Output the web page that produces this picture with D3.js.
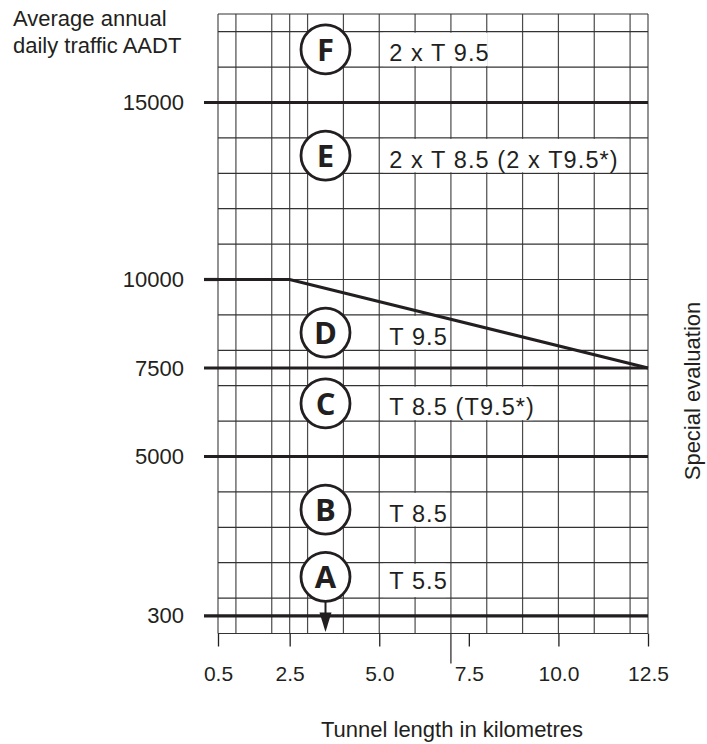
<!DOCTYPE html>
<html>
<head>
<meta charset="utf-8">
<script src="https://cdn.jsdelivr.net/npm/d3@7"></script>
<style>
  body { margin: 0; background: #fff; }
  text { font-family: 'Liberation Sans', Arial, sans-serif; fill: #231f20; }
</style>
</head>
<body>
<div id="chart"></div>
<script>
// tunnel length (km) where the vertical grid lines sit
var kmGrid = [0.5, 1, 2, 2.5, 3, 4, 5, 6, 7, 8, 9, 10, 11, 12, 12.5];
var kmTicks = [0.5, 2.5, 5.0, 7.5, 10.0, 12.5];
// chart rows (one row = one grid square), horizontal grid lines
var rowGrid = [0, 1, 2, 3, 4, 5, 6, 7, 8, 9, 10, 11, 12, 13, 14, 15, 16, 17, 17.5];
// AADT thresholds and the row they sit on
var aadtLabels = ['300', '5000', '7500', '10000', '15000'];
var aadtRows = [0.5, 5, 7.5, 10, 15];
var straightLimits = [0.5, 5, 7.5, 15];
// 10000 limit falling to 7500 at 12.5 km  [km, row]
var slopedLimit = [[0.5, 10], [2.5, 10], [12.5, 7.5]];
// tunnel classes
var classes = ['A', 'B', 'C', 'D', 'E', 'F'];
var classRows = [1.6, 3.5, 6.5, 8.5, 13.5, 16.5];
var profiles = ['T 5.5', 'T 8.5', 'T 8.5 (T9.5*)', 'T 9.5', '2 x T 8.5 (2 x T9.5*)', '2 x T 9.5'];
var classKm = 3.5;

var w = 707;
var h = 744;
var ink = '#231f20';

var svg = d3.select('#chart').append('svg')
    .attr('width', w)
    .attr('height', h);

var x = d3.scaleLinear().domain([0.5, 12.5]).range([218, 648]);
var y = d3.scaleLinear().domain([0, 17.5]).range([633.5, 14]);

// grid
var grid = svg.append('g');
grid.selectAll('.v').data(kmGrid).enter().append('line')
    .attr('class', 'v')
    .attr('x1', function(d){ return x(d); })
    .attr('x2', function(d){ return x(d); })
    .attr('y1', y(17.5))
    .attr('y2', y(0))
    .attr('stroke', '#4a4a4a')
    .attr('stroke-width', 1.2);
grid.selectAll('.h').data(rowGrid).enter().append('line')
    .attr('class', 'h')
    .attr('x1', x(0.5))
    .attr('x2', x(12.5))
    .attr('y1', function(d){ return y(d); })
    .attr('y2', function(d){ return y(d); })
    .attr('stroke', '#333')
    .attr('stroke-width', 1.2);

// x axis
var xAxis = svg.append('g')
    .attr('transform', 'translate(0,' + y(0) + ')')
    .call(d3.axisBottom(x).tickValues(kmTicks).tickFormat(d3.format('.1f')).tickSize(13).tickPadding(20));
xAxis.select('.domain').remove();
xAxis.selectAll('line').attr('stroke', ink).attr('stroke-width', 1.3);
xAxis.selectAll('text').attr('font-size', 21).attr('font-family', 'Liberation Sans, Arial, sans-serif').attr('fill', ink);
// odd long stroke under 7 km
svg.append('line')
    .attr('x1', x(7)).attr('x2', x(7))
    .attr('y1', y(0)).attr('y2', y(0) + 30)
    .attr('stroke', ink).attr('stroke-width', 1.2);

// y labels
var yAxis = svg.append('g')
    .attr('transform', 'translate(' + x(0.5) + ',0)')
    .call(d3.axisLeft(y).tickValues(aadtRows)
        .tickFormat(function(d, i){ return aadtLabels[i]; })
        .tickSize(0).tickPadding(34));
yAxis.select('.domain').remove();
yAxis.selectAll('text').attr('font-size', 22).attr('font-family', 'Liberation Sans, Arial, sans-serif').attr('fill', ink);

// profile labels on white boxes
classes.forEach(function(c, i){
    var row = classRows[i];
    var g = svg.append('g');
    var t = g.append('text')
        .attr('x', x(5) + 10)
        .attr('y', y(row) + 12)
        .attr('font-size', 23.5)
        .attr('letter-spacing', 1.1)
        .text(profiles[i]);
    var bb = t.node().getBBox();
    var r0 = Math.floor(row);
    g.insert('rect', 'text')
        .attr('x', bb.x - 6)
        .attr('width', bb.width + 4)
        .attr('y', y(r0 + 1) + 1)
        .attr('height', y(r0) - y(r0 + 1) - 2)
        .attr('fill', '#fff');
});

// limit lines
svg.selectAll('.limit').data(straightLimits).enter().append('line')
    .attr('class', 'limit')
    .attr('x1', x(0.5) - 14)
    .attr('x2', x(12.5))
    .attr('y1', function(d){ return y(d); })
    .attr('y2', function(d){ return y(d); })
    .attr('stroke', ink)
    .attr('stroke-width', 3.2);
svg.append('line')
    .attr('x1', x(0.5) - 14).attr('x2', x(0.5))
    .attr('y1', y(10)).attr('y2', y(10))
    .attr('stroke', ink).attr('stroke-width', 3.2);
svg.append('path')
    .attr('d', d3.line().x(function(d){ return x(d[0]); }).y(function(d){ return y(d[1]); })(slopedLimit))
    .attr('fill', 'none')
    .attr('stroke', ink)
    .attr('stroke-width', 3.2);

// arrow from A down to the 300 line
var ax = x(classKm);
svg.append('line')
    .attr('x1', ax).attr('x2', ax)
    .attr('y1', y(classRows[0]) + 24).attr('y2', y(0) - 18)
    .attr('stroke', ink).attr('stroke-width', 2);
svg.append('path')
    .attr('d', 'M' + (ax - 6) + ',' + (y(0) - 21) + 'L' + (ax + 6) + ',' + (y(0) - 21) + 'L' + ax + ',' + (y(0) - 1.5) + 'Z')
    .attr('fill', ink);

// class circles
var circ = svg.selectAll('.cls').data(classes).enter().append('g')
    .attr('class', 'cls')
    .attr('transform', function(d, i){ return 'translate(' + x(classKm) + ',' + y(classRows[i]) + ')'; });
circ.append('circle')
    .attr('r', 24.5)
    .attr('fill', '#fff')
    .attr('stroke', ink)
    .attr('stroke-width', 2.8);
circ.append('text')
    .attr('text-anchor', 'middle')
    .attr('dy', '0.36em')
    .attr('font-size', 31)
    .attr('font-weight', 700)
    .style('font-family', "'Open Sans', sans-serif")
    .text(function(d){ return d; });

// titles
svg.append('text').attr('x', 13).attr('y', 26).attr('font-size', 22).text('Average annual');
svg.append('text').attr('x', 13).attr('y', 53).attr('font-size', 22).text('daily traffic AADT');
svg.append('text')
    .attr('x', 452).attr('y', 737)
    .attr('text-anchor', 'middle')
    .attr('font-size', 22)
    .text('Tunnel length in kilometres');
svg.append('text')
    .attr('transform', 'translate(700,391) rotate(-90)')
    .attr('text-anchor', 'middle')
    .attr('font-size', 22)
    .text('Special evaluation');
</script>
</body>
</html>
